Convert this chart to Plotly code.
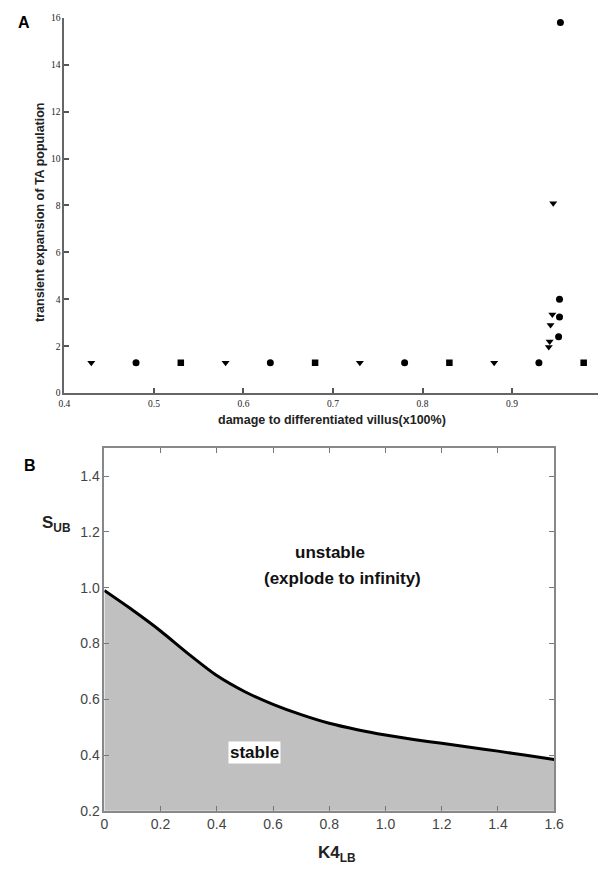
import plotly.graph_objects as go

# ---- Panel A data ----
tri_x = [0.43, 0.58, 0.73, 0.88, 0.941, 0.942, 0.943, 0.945, 0.946]
tri_y = [1.3, 1.3, 1.3, 1.3, 1.97, 2.2, 2.9, 3.35, 8.1]
circ_x = [0.48, 0.63, 0.78, 0.93, 0.952, 0.953, 0.953, 0.954]
circ_y = [1.3, 1.3, 1.3, 1.3, 2.4, 3.25, 4.0, 15.8]
sq_x = [0.53, 0.68, 0.83, 0.98]
sq_y = [1.3, 1.3, 1.3, 1.3]

a_xticks = [0.4, 0.5, 0.6, 0.7, 0.8, 0.9]
a_yticks = [0, 2, 4, 6, 8, 10, 12, 14, 16]

# ---- Panel B data ----
k4_lb = [0, 0.1, 0.2, 0.3, 0.4, 0.5, 0.6, 0.7, 0.8, 0.9, 1.0, 1.1, 1.2, 1.3, 1.4, 1.5, 1.6]
s_ub = [0.99, 0.92, 0.845, 0.762, 0.685, 0.627, 0.582, 0.545, 0.514, 0.491, 0.472, 0.456, 0.442, 0.428, 0.414, 0.399, 0.384]

b_xticks = [0, 0.2, 0.4, 0.6, 0.8, 1.0, 1.2, 1.4, 1.6]
b_xlabels = ["0", "0.2", "0.4", "0.6", "0.8", "1.0", "1.2", "1.4", "1.6"]
b_yticks = [0.2, 0.4, 0.6, 0.8, 1.0, 1.2, 1.4]
b_ylabels = ["0.2", "0.4", "0.6", "0.8", "1.0", "1.2", "1.4"]

fig = go.Figure()

mk = dict(color="black", size=7)
fig.add_trace(go.Scatter(x=tri_x, y=tri_y, mode="markers",
                         marker=dict(symbol="triangle-down", **mk),
                         xaxis="x", yaxis="y", showlegend=False))
fig.add_trace(go.Scatter(x=circ_x, y=circ_y, mode="markers",
                         marker=dict(symbol="circle", **mk),
                         xaxis="x", yaxis="y", showlegend=False))
fig.add_trace(go.Scatter(x=sq_x, y=sq_y, mode="markers",
                         marker=dict(symbol="square", color="black", size=6.5),
                         xaxis="x", yaxis="y", showlegend=False))

fig.add_trace(go.Scatter(x=k4_lb, y=s_ub, mode="lines", fill="tozeroy",
                         fillcolor="#c0c0c0",
                         line=dict(color="black", width=3, shape="spline", smoothing=0.6),
                         xaxis="x2", yaxis="y2", showlegend=False))

W, H = 608, 873
tickfontA = dict(family="Liberation Serif, Times New Roman, serif", size=9.5, color="#222")
tickfontB = dict(family="Liberation Sans, Arial, sans-serif", size=14, color="#444")

fig.update_layout(
    width=W, height=H,
    margin=dict(l=0, r=0, t=0, b=0),
    paper_bgcolor="white", plot_bgcolor="white",
    xaxis=dict(domain=[60 / W, 1.0], range=[0.4, 0.996], anchor="y",
               tickvals=a_xticks, ticktext=[str(v) for v in a_xticks],
               ticks="inside", ticklen=5, tickcolor="#555", tickwidth=1.5,
               showline=True, linecolor="#666", linewidth=2, mirror=False,
               showgrid=False, zeroline=False, tickfont=tickfontA),
    yaxis=dict(domain=[(H - 394) / H, (H - 13) / H], range=[0, 16], anchor="x",
               tickvals=a_yticks, ticktext=[str(v) for v in a_yticks],
               ticks="inside", ticklen=5, tickcolor="#555", tickwidth=1.5,
               showline=True, linecolor="#666", linewidth=2, mirror=False,
               showgrid=False, zeroline=False, tickfont=tickfontA),
    xaxis2=dict(domain=[101 / W, 563 / W], range=[0, 1.6], anchor="y2",
                tickvals=b_xticks, ticktext=b_xlabels,
                ticks="inside", ticklen=5, tickcolor="#777",
                showline=True, linecolor="#888", linewidth=1.5, mirror="ticks",
                showgrid=False, zeroline=False, tickfont=tickfontB),
    yaxis2=dict(domain=[(H - 818) / H, (H - 450) / H], range=[0.2, 1.5], anchor="x2",
                tickvals=b_yticks, ticktext=b_ylabels,
                ticks="inside", ticklen=5, tickcolor="#777",
                showline=True, linecolor="#888", linewidth=1.5, mirror="ticks",
                showgrid=False, zeroline=False, tickfont=tickfontB),
)

bold = "Liberation Sans, Arial, sans-serif"
ann = [
    dict(text="<b>A</b>", x=18 / W, y=1 - 18 / H, font=dict(family=bold, size=16, color="black")),
    dict(text="<b>B</b>", x=25 / W, y=1 - 467 / H, font=dict(family=bold, size=16, color="black")),
    dict(text="<b>transient expansion of TA population</b>", x=35 / W, y=1 - 211 / H, textangle=-90,
         font=dict(family=bold, size=12.5, color="#222")),
    dict(text="<b>damage to differentiated villus(x100%)</b>", x=335 / W, y=1 - 421 / H,
         font=dict(family=bold, size=12.5, color="#222")),
    dict(text="<b>S</b><sub><b>UB</b></sub>", x=52 / W, y=1 - 527 / H,
         font=dict(family=bold, size=17, color="#222")),
    dict(text="<b>K4</b><sub><b>LB</b></sub>", x=340 / W, y=1 - 862 / H,
         font=dict(family=bold, size=17, color="#222")),
    dict(text="<b>unstable</b>", x=333 / W, y=1 - 556 / H,
         font=dict(family=bold, size=17, color="#111")),
    dict(text="<b>(explode to infinity)</b>", x=346 / W, y=1 - 582 / H,
         font=dict(family=bold, size=17, color="#111")),
    dict(text="<b>stable</b>", x=255 / W, y=1 - 759 / H, bgcolor="white", borderpad=1,
         font=dict(family=bold, size=17, color="#111")),
]
for a in ann:
    a.update(xref="paper", yref="paper", showarrow=False, xanchor="center", yanchor="middle")
fig.update_layout(annotations=ann)

fig.write_html("out.html")
